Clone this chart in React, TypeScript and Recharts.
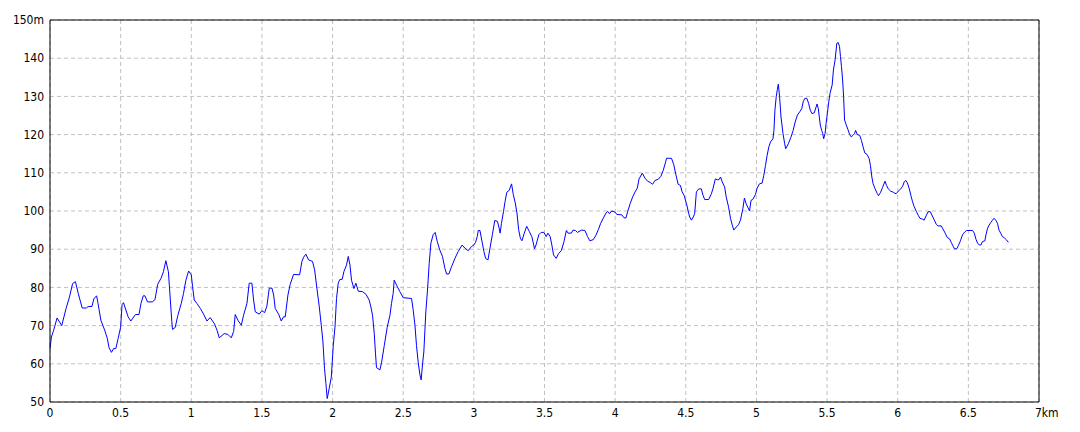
import React from 'react';
import { LineChart, Line, XAxis, YAxis, CartesianGrid, ReferenceLine } from 'recharts';

// elevation profile, [distance km, elevation m], split by km
const seg0 = [
  [0, 64], [0.01, 67], [0.026, 68.8], [0.05, 72], [0.083, 70], [0.114, 74.5], [0.138, 77.5], [0.16, 81],
  [0.18, 81.5], [0.2, 78.4], [0.228, 74.6], [0.257, 74.6], [0.27, 75], [0.297, 75], [0.31, 77], [0.33, 77.8],
  [0.34, 75.8], [0.36, 71.4], [0.387, 68.8], [0.406, 66.6], [0.418, 64.2], [0.435, 63], [0.45, 64], [0.466, 64],
  [0.482, 66.6], [0.5, 69.6], [0.51, 75.5], [0.52, 76], [0.553, 72.3], [0.572, 71.2], [0.605, 72.9], [0.63, 72.9],
  [0.644, 75.8], [0.66, 77.8], [0.672, 77.8], [0.69, 76.2], [0.724, 76.2], [0.743, 76.8], [0.762, 80.8],
  [0.786, 82.4], [0.803, 84.1], [0.82, 87], [0.838, 84.1], [0.845, 80.4], [0.862, 71.1], [0.867, 69],
  [0.886, 69.5], [0.905, 72.7], [0.929, 75.8], [0.945, 78.4], [0.962, 81.9], [0.981, 84.3],
];
const seg1 = [
  [1.0, 83.3], [1.009, 80.2], [1.021, 76.7], [1.04, 75.8], [1.064, 74.5], [1.087, 73], [1.111, 71.2], [1.134, 72.1],
  [1.165, 70.4], [1.182, 68.8], [1.198, 66.8], [1.233, 67.9], [1.259, 67.7], [1.283, 66.8], [1.3, 68.5],
  [1.311, 72.9], [1.33, 71.4], [1.354, 70.1], [1.37, 72.7], [1.394, 75.8], [1.41, 81.1], [1.429, 81.1],
  [1.441, 76.7], [1.453, 73.6], [1.481, 73], [1.5, 73.9], [1.519, 73.4], [1.535, 75.1], [1.552, 79.8],
  [1.571, 79.8], [1.583, 78], [1.594, 74.5], [1.618, 73], [1.637, 71.2], [1.653, 72.3], [1.665, 72.3],
  [1.684, 78], [1.7, 80.8], [1.724, 83.4], [1.767, 83.3], [1.783, 86.8], [1.795, 87.9], [1.811, 88.7],
  [1.83, 87.2], [1.858, 86.8], [1.873, 84.6], [1.889, 79.8], [1.906, 74.9], [1.92, 70.1], [1.932, 65.7],
  [1.943, 58.7], [1.953, 54.8], [1.962, 50.9], [1.976, 53.5], [1.991, 56.5],
];
const seg2 = [
  [2.005, 64.8], [2.017, 69.6], [2.028, 77.1], [2.04, 81.1], [2.052, 82.1], [2.068, 82.1], [2.08, 84.1],
  [2.099, 85.9], [2.111, 88.1], [2.123, 85.9], [2.134, 81.9], [2.151, 79.7], [2.165, 81.1], [2.182, 79],
  [2.212, 78.9], [2.236, 78.2], [2.259, 76.7], [2.271, 74.9], [2.283, 72.7], [2.295, 67.9], [2.304, 62.6],
  [2.311, 59], [2.335, 58.4], [2.347, 60.4], [2.366, 64.8], [2.387, 69.6], [2.406, 72.7], [2.417, 75.8],
  [2.429, 78.4], [2.436, 81.9], [2.453, 80.6], [2.476, 78.9], [2.5, 77.3], [2.559, 77.1], [2.571, 74],
  [2.583, 70.1], [2.594, 64.8], [2.606, 60.4], [2.618, 57.2], [2.627, 55.8], [2.637, 60], [2.646, 63.1],
  [2.66, 73.6], [2.672, 79.3], [2.684, 86.3], [2.696, 91.6], [2.712, 93.8], [2.726, 94.4], [2.741, 92],
  [2.759, 89.8], [2.778, 88.1], [2.795, 85], [2.807, 83.5], [2.823, 83.5], [2.842, 85.4], [2.866, 87.6],
  [2.889, 89.4], [2.917, 91.1], [2.936, 90.3], [2.96, 89.6], [2.983, 90.7],
];
const seg3 = [
  [3.0, 91.1], [3.012, 91.8], [3.024, 93.3], [3.031, 94.9], [3.043, 94.9], [3.06, 91.6], [3.071, 89.4],
  [3.083, 87.6], [3.1, 87.2], [3.112, 89.8], [3.131, 93.8], [3.148, 97.5], [3.167, 97.3], [3.179, 95.5],
  [3.186, 94.2], [3.195, 96.7], [3.21, 99.9], [3.221, 102.5], [3.233, 104.9], [3.25, 105.4], [3.267, 107.1],
  [3.279, 104.3], [3.293, 102.1], [3.305, 99.5], [3.317, 95.1], [3.329, 92.9], [3.34, 92.2], [3.357, 94.2],
  [3.374, 96], [3.393, 94.6], [3.41, 93.3], [3.421, 91.6], [3.429, 90.1], [3.44, 91.1], [3.46, 93.8],
  [3.476, 94.4], [3.495, 94.4], [3.512, 93.3], [3.524, 94.2], [3.54, 93.3], [3.552, 91.1], [3.564, 88.5],
  [3.583, 87.6], [3.6, 88.9], [3.619, 89.6], [3.638, 92], [3.655, 94.9], [3.667, 94.2], [3.69, 94.2],
  [3.702, 95], [3.719, 94.9], [3.733, 94.4], [3.762, 95], [3.786, 94.9], [3.805, 93.3], [3.821, 92.2],
  [3.845, 92.5], [3.862, 93.5], [3.881, 95.1], [3.898, 96.8], [3.917, 98.2], [3.936, 99.5], [3.948, 99.9],
  [3.96, 99.3], [3.976, 100],
];
const seg4 = [
  [4.0, 99.7], [4.012, 99.1], [4.047, 99], [4.063, 98.2], [4.077, 98.2], [4.089, 99.9], [4.106, 101.9],
  [4.124, 103.7], [4.141, 105], [4.157, 106], [4.169, 108.4], [4.192, 109.9], [4.211, 108.6], [4.23, 107.8],
  [4.251, 107.4], [4.265, 107], [4.282, 108], [4.305, 108.3], [4.324, 109.1], [4.34, 110.6], [4.357, 112.8],
  [4.364, 113.8], [4.399, 113.8], [4.415, 112.1], [4.43, 109.5], [4.446, 107], [4.462, 106.7], [4.474, 105],
  [4.488, 104.1], [4.505, 101.9], [4.521, 99.3], [4.528, 98.4], [4.54, 97.6], [4.552, 98.4], [4.563, 99.3],
  [4.575, 105], [4.592, 105.8], [4.61, 105.8], [4.622, 104.1], [4.634, 103], [4.662, 103], [4.681, 104.5],
  [4.692, 105.8], [4.709, 108.4], [4.723, 108.2], [4.735, 108.2], [4.746, 108.9], [4.758, 107.6],
  [4.775, 106.3], [4.786, 103.7], [4.803, 101], [4.817, 98], [4.829, 96.3], [4.84, 95], [4.857, 95.8],
  [4.873, 96.4], [4.887, 97.6], [4.904, 100.6], [4.915, 103.4], [4.927, 101.9], [4.939, 101], [4.951, 100],
  [4.962, 102.8], [4.974, 103], [4.993, 104.3],
];
const seg5 = [
  [5.005, 106], [5.021, 107.1], [5.04, 107.3], [5.052, 109.3], [5.064, 111.9], [5.076, 114.6], [5.088, 116.8],
  [5.1, 118.1], [5.117, 118.9], [5.124, 121.1], [5.131, 126.4], [5.14, 129.9], [5.148, 131.8], [5.155, 133.2],
  [5.164, 129.9], [5.174, 124.6], [5.188, 120.3], [5.2, 117.6], [5.207, 116.3], [5.226, 117.6], [5.243, 119.2],
  [5.26, 121.1], [5.274, 123.3], [5.29, 125.1], [5.307, 126], [5.321, 126.8], [5.331, 128.6], [5.343, 129.5],
  [5.357, 129.5], [5.369, 128.2], [5.381, 126.4], [5.393, 125.5], [5.41, 125.7], [5.421, 127.1], [5.429, 128],
  [5.438, 126.8], [5.445, 124.6], [5.452, 122.5], [5.462, 121.1], [5.469, 120.3], [5.476, 118.9],
  [5.486, 120.3], [5.493, 122.9], [5.502, 125.5], [5.512, 128.6], [5.521, 130.8], [5.536, 133], [5.545, 136.9],
  [5.557, 139.6], [5.569, 143.9], [5.579, 144.1], [5.588, 143.1], [5.595, 140.4], [5.602, 137.8],
  [5.61, 134.3], [5.617, 129.9], [5.624, 123.8], [5.636, 122.5], [5.648, 121.3], [5.66, 120], [5.671, 119.4],
  [5.683, 119.8], [5.695, 120.3], [5.702, 121.1], [5.714, 120], [5.731, 119.8], [5.743, 118.5], [5.755, 116.8],
  [5.767, 115.2], [5.783, 114.8], [5.798, 113.7], [5.807, 111.9], [5.817, 108.9], [5.826, 107.1],
  [5.84, 105.8], [5.855, 104.6], [5.864, 104], [5.879, 104.9], [5.893, 106.2], [5.91, 107.8], [5.921, 106.7],
  [5.933, 105.8], [5.95, 105.2], [5.969, 104.9], [5.988, 104.5],
];
const seg6 = [
  [6.005, 105.2], [6.021, 105.8], [6.035, 106.5], [6.047, 107.7], [6.058, 108], [6.068, 107.4], [6.082, 105.8],
  [6.093, 104.1], [6.105, 102.4], [6.117, 101.1], [6.133, 99.8], [6.145, 98.9], [6.157, 98.1], [6.173, 97.9],
  [6.187, 97.6], [6.203, 98.9], [6.215, 99.8], [6.231, 99.8], [6.245, 98.7], [6.262, 97.4], [6.273, 96.5],
  [6.285, 96.1], [6.308, 96.1], [6.32, 95.3], [6.336, 94.2], [6.35, 93.1], [6.367, 92.7], [6.379, 91.8],
  [6.39, 90.9], [6.402, 90.1], [6.418, 90.1], [6.43, 91], [6.444, 92.2], [6.46, 93.9], [6.477, 94.6],
  [6.488, 94.9], [6.53, 94.9], [6.542, 94.2], [6.554, 92.6], [6.565, 91.6], [6.577, 91.1], [6.589, 91.1],
  [6.6, 92], [6.617, 92.2], [6.624, 93.7], [6.636, 95.5], [6.647, 96.3], [6.659, 97], [6.671, 97.6],
  [6.682, 98.1], [6.694, 97.6], [6.706, 96.8], [6.717, 95], [6.729, 94.2], [6.741, 93.3], [6.757, 92.9],
  [6.771, 92.4], [6.783, 91.8],
];

const xTicks = [0, 0.5, 1, 1.5, 2, 2.5, 3, 3.5, 4, 4.5, 5, 5.5, 6, 6.5, 7];
const yTicks = [50, 60, 70, 80, 90, 100, 110, 120, 130, 140, 150];

const data = [...seg0, ...seg1, ...seg2, ...seg3, ...seg4, ...seg5, ...seg6].map(([km, m]) => ({ km, m }));

const FONT = "'Liberation Sans Narrow', 'DejaVu Sans Condensed', Arial, sans-serif";

function XTick({ x, y, payload }: any) {
  const v = payload.value;
  if (v === 7) {
    return (
      <text x={x - 4} y={y + 9} textAnchor="start" fontSize={12} fontFamily={FONT} fill="#000">
        7km
      </text>
    );
  }
  return (
    <text x={x} y={y + 9} textAnchor="middle" fontSize={12} fontFamily={FONT} fill="#000">
      {v}
    </text>
  );
}

export default function App() {
  return (
    <div style={{ position: 'absolute', left: 0, top: 0, width: 1080, height: 432, background: '#fff' }}>
      <LineChart width={1080} height={432} data={data} margin={{ top: 20, right: 41, bottom: 0, left: 0 }}>
        <CartesianGrid stroke="#c0c0c0" strokeDasharray="4 3" verticalPoints={undefined} />
        <XAxis
          dataKey="km"
          type="number"
          domain={[0, 7]}
          ticks={xTicks}
          height={30}
          tickLine={false}
          tickSize={0}
          tickMargin={6}
          axisLine={{ stroke: '#000' }}
          tick={<XTick />}
          interval={0}
        />
        <YAxis
          type="number"
          domain={[50, 150]}
          ticks={yTicks}
          width={50}
          tickLine={false}
          tickSize={0}
          tickMargin={6}
          axisLine={{ stroke: '#000' }}
          interval={0}
          tick={{ fill: '#000', fontSize: 12, fontFamily: FONT }}
          tickFormatter={(v: number) => (v === 150 ? '150m' : String(v))}
        />
        <ReferenceLine y={150} stroke="#000" />
        <ReferenceLine x={7} stroke="#000" />
        <Line
          type="linear"
          dataKey="m"
          stroke="#0000ff"
          strokeWidth={1}
          dot={false}
          activeDot={false}
          isAnimationActive={false}
        />
      </LineChart>
    </div>
  );
}
